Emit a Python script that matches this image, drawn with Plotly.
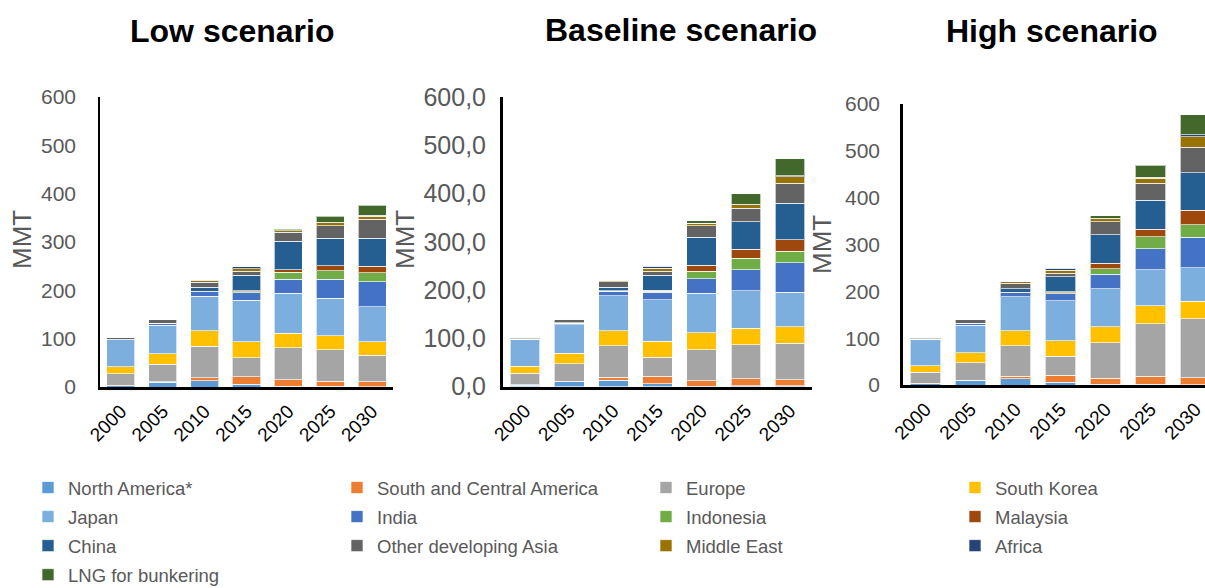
import plotly.graph_objects as go

# Category axis and series names
years = ["2000", "2005", "2010", "2015", "2020", "2025", "2030"]
regions = [
    "North America*", "South and Central America", "Europe", "South Korea",
    "Japan", "India", "Indonesia", "Malaysia",
    "China", "Other developing Asia", "Middle East", "Africa",
    "LNG for bunkering",
]
colors = [
    "#5B9BD5", "#ED7D31", "#A5A5A5", "#FFC000",
    "#7CAFDD", "#4472C4", "#70AD47", "#9E480E",
    "#255E91", "#636363", "#997300", "#264478",
    "#43682B",
]

# LNG demand (MMT) - Low scenario
low_north_america = [3, 10, 13, 6, 2, 2, 1]
low_south_central_america = [0.5, 0.5, 6, 15, 13, 10, 10]
low_europe = [24, 37, 65, 40, 66, 65, 55]
low_south_korea = [14, 21, 32, 33, 30, 29, 28]
low_japan = [56, 59, 72, 86, 83, 78, 72]
low_india = [0.5, 4, 9, 15, 29, 39, 52]
low_indonesia = [0, 0, 0.5, 2, 14, 18, 18]
low_malaysia = [0, 0, 0.5, 2, 6, 10, 14]
low_china = [0.5, 0.5, 8, 32, 59, 57, 58]
low_other_asia = [3, 7, 11, 8, 18, 26, 39]
low_middle_east = [0.3, 0.5, 3, 6, 3, 5.5, 6]
low_africa = [0, 0, 0.5, 4, 0.5, 1.5, 2]
low_bunkering = [0, 0, 0, 0, 2.5, 12, 21]

# LNG demand (MMT) - Baseline scenario
base_north_america = [3, 10, 13, 6, 1, 2, 1.5]
base_south_central_america = [0.5, 0.5, 6, 15, 11, 14, 12]
base_europe = [24, 37, 65, 40, 64, 71, 76]
base_south_korea = [14, 21, 32, 33, 35, 34, 34]
base_japan = [56, 59, 72, 86, 82, 77, 72]
base_india = [0.5, 4, 9, 15, 30, 44, 61]
base_indonesia = [0, 0, 0.5, 2, 16, 24, 24]
base_malaysia = [0, 0, 0.5, 2, 12, 18, 24]
base_china = [0.5, 0.5, 8, 32, 58, 57, 75]
base_other_asia = [3, 7, 11, 8, 24, 28, 42]
base_middle_east = [0.3, 0.5, 3, 6, 5, 8, 13]
base_africa = [0, 0, 0.5, 4, 0.5, 1, 2]
base_bunkering = [0, 0, 0, 0, 5, 21, 36]

# LNG demand (MMT) - High scenario
high_north_america = [3, 10, 13, 6, 1.5, 2, 1]
high_south_central_america = [0.5, 0.5, 6, 15, 13, 17, 15]
high_europe = [24, 37, 65, 40, 76, 112, 125]
high_south_korea = [14, 21, 32, 33, 34, 38, 38]
high_japan = [56, 59, 72, 86, 81, 77, 71]
high_india = [0.5, 4, 9, 15, 31, 45, 66]
high_indonesia = [0, 0, 0.5, 2, 12, 26, 26]
high_malaysia = [0, 0, 0.5, 2, 12, 16, 31]
high_china = [0.5, 0.5, 8, 32, 60, 62, 80]
high_other_asia = [3, 7, 11, 8, 28, 36, 55]
high_middle_east = [0.3, 0.5, 3, 6, 6, 11, 22]
high_africa = [0, 0, 0.5, 4, 2, 2, 4]
high_bunkering = [0, 0, 0, 0, 5, 25, 43]

y_ticks = [0, 100, 200, 300, 400, 500, 600]
y_ticktext_comma = ["0,0", "100,0", "200,0", "300,0", "400,0", "500,0", "600,0"]
titles = ["Low scenario", "Baseline scenario", "High scenario"]

low_series = [low_north_america, low_south_central_america, low_europe, low_south_korea,
              low_japan, low_india, low_indonesia, low_malaysia, low_china,
              low_other_asia, low_middle_east, low_africa, low_bunkering]
base_series = [base_north_america, base_south_central_america, base_europe, base_south_korea,
               base_japan, base_india, base_indonesia, base_malaysia, base_china,
               base_other_asia, base_middle_east, base_africa, base_bunkering]
high_series = [high_north_america, high_south_central_america, high_europe, high_south_korea,
               high_japan, high_india, high_indonesia, high_malaysia, high_china,
               high_other_asia, high_middle_east, high_africa, high_bunkering]

W, H = 1205, 588
FONT = "Liberation Sans, Arial, sans-serif"
GREY = "#595959"


def px_x(v):
    return v / W


def px_y(v):
    return 1 - v / H


legend_ids = ["legend", "legend2", "legend3", "legend4"]

fig = go.Figure()
panels = [("x", "y", low_series), ("x2", "y2", base_series), ("x3", "y3", high_series)]
for p, (xa, ya, series) in enumerate(panels):
    for i, (name, vals) in enumerate(zip(regions, series)):
        fig.add_trace(go.Bar(
            x=years, y=vals, name=name, xaxis=xa, yaxis=ya,
            marker=dict(color=colors[i], line=dict(color="rgba(255,255,255,0.65)", width=1)),
            legendgroup=name, showlegend=(p == 0), legend=legend_ids[i % 4],
            hovertemplate="%{x}: %{y} MMT<extra>" + name + "</extra>",
        ))

# Panel geometry in pixels: (x left, x right, y zero, y top)
geo = [(100, 393, 387, 97), (503, 812, 386.5, 97), (903, 1205, 385, 104)]
xranges = [[-0.5, 6.5], [-0.5, 6.5], [-0.5, -0.5 + (1205 - 903) / 45.0]]
ylw = [1.5, 3, 2.5]
standoffs = [18, 9, 16]
ytick_sizes = [21, 25, 21]

layout = dict(
    width=W, height=H, margin=dict(l=0, r=0, t=0, b=0, autoexpand=False),
    barmode="stack", bargap=0.33,
    plot_bgcolor="white", paper_bgcolor="white",
    font=dict(family=FONT, color=GREY),
)
for k in range(3):
    sfx = "" if k == 0 else str(k + 1)
    x0, x1, yz, yt = geo[k]
    layout["xaxis" + sfx] = dict(
        domain=[px_x(x0), px_x(x1)], anchor="y" + sfx, type="category",
        range=xranges[k], tickangle=-45, ticks="", ticklabelstandoff=3,
        tickfont=dict(size=19, color="#000000", family=FONT),
        showline=True, linecolor="#000000", linewidth=2.5, showgrid=False,
        fixedrange=True, automargin=False,
    )
    layout["yaxis" + sfx] = dict(
        domain=[px_y(yz), px_y(yt)], anchor="x" + sfx, range=[0, 600],
        tickvals=y_ticks,
        ticktext=y_ticktext_comma if k == 1 else [str(v) for v in y_ticks],
        ticks="", ticklabelstandoff=standoffs[k],
        tickfont=dict(size=ytick_sizes[k], color=GREY, family=FONT),
        showline=True, linecolor="#000000", linewidth=ylw[k],
        showgrid=False, zeroline=False, fixedrange=True, automargin=False,
    )

# Four legend columns
col_x = [28, 337, 646, 955]
for j, lid in enumerate(legend_ids):
    layout[lid] = dict(
        x=px_x(col_x[j]), y=px_y(469), xanchor="left", yanchor="top",
        orientation="v", traceorder="grouped", tracegroupgap=2,
        font=dict(size=18.5, color=GREY, family=FONT),
        bgcolor="rgba(0,0,0,0)", borderwidth=0,
    )

fig.update_layout(**layout)

# Panel titles
title_pos = [(232, 31), (681, 30), (1052, 31)]
for t, (tx, ty) in zip(titles, title_pos):
    fig.add_annotation(
        text="<b>" + t + "</b>", x=px_x(tx), y=px_y(ty), xref="paper", yref="paper",
        showarrow=False, font=dict(size=32, color="#000000", family=FONT),
        xanchor="center", yanchor="middle",
    )

# Y axis titles
mmt_pos = [(22, 240), (405, 240), (822, 245)]
for mx, my in mmt_pos:
    fig.add_annotation(
        text="MMT", x=px_x(mx), y=px_y(my), xref="paper", yref="paper",
        showarrow=False, textangle=-90, font=dict(size=26, color=GREY, family=FONT),
        xanchor="center", yanchor="middle",
    )

fig.write_html("out.html")
